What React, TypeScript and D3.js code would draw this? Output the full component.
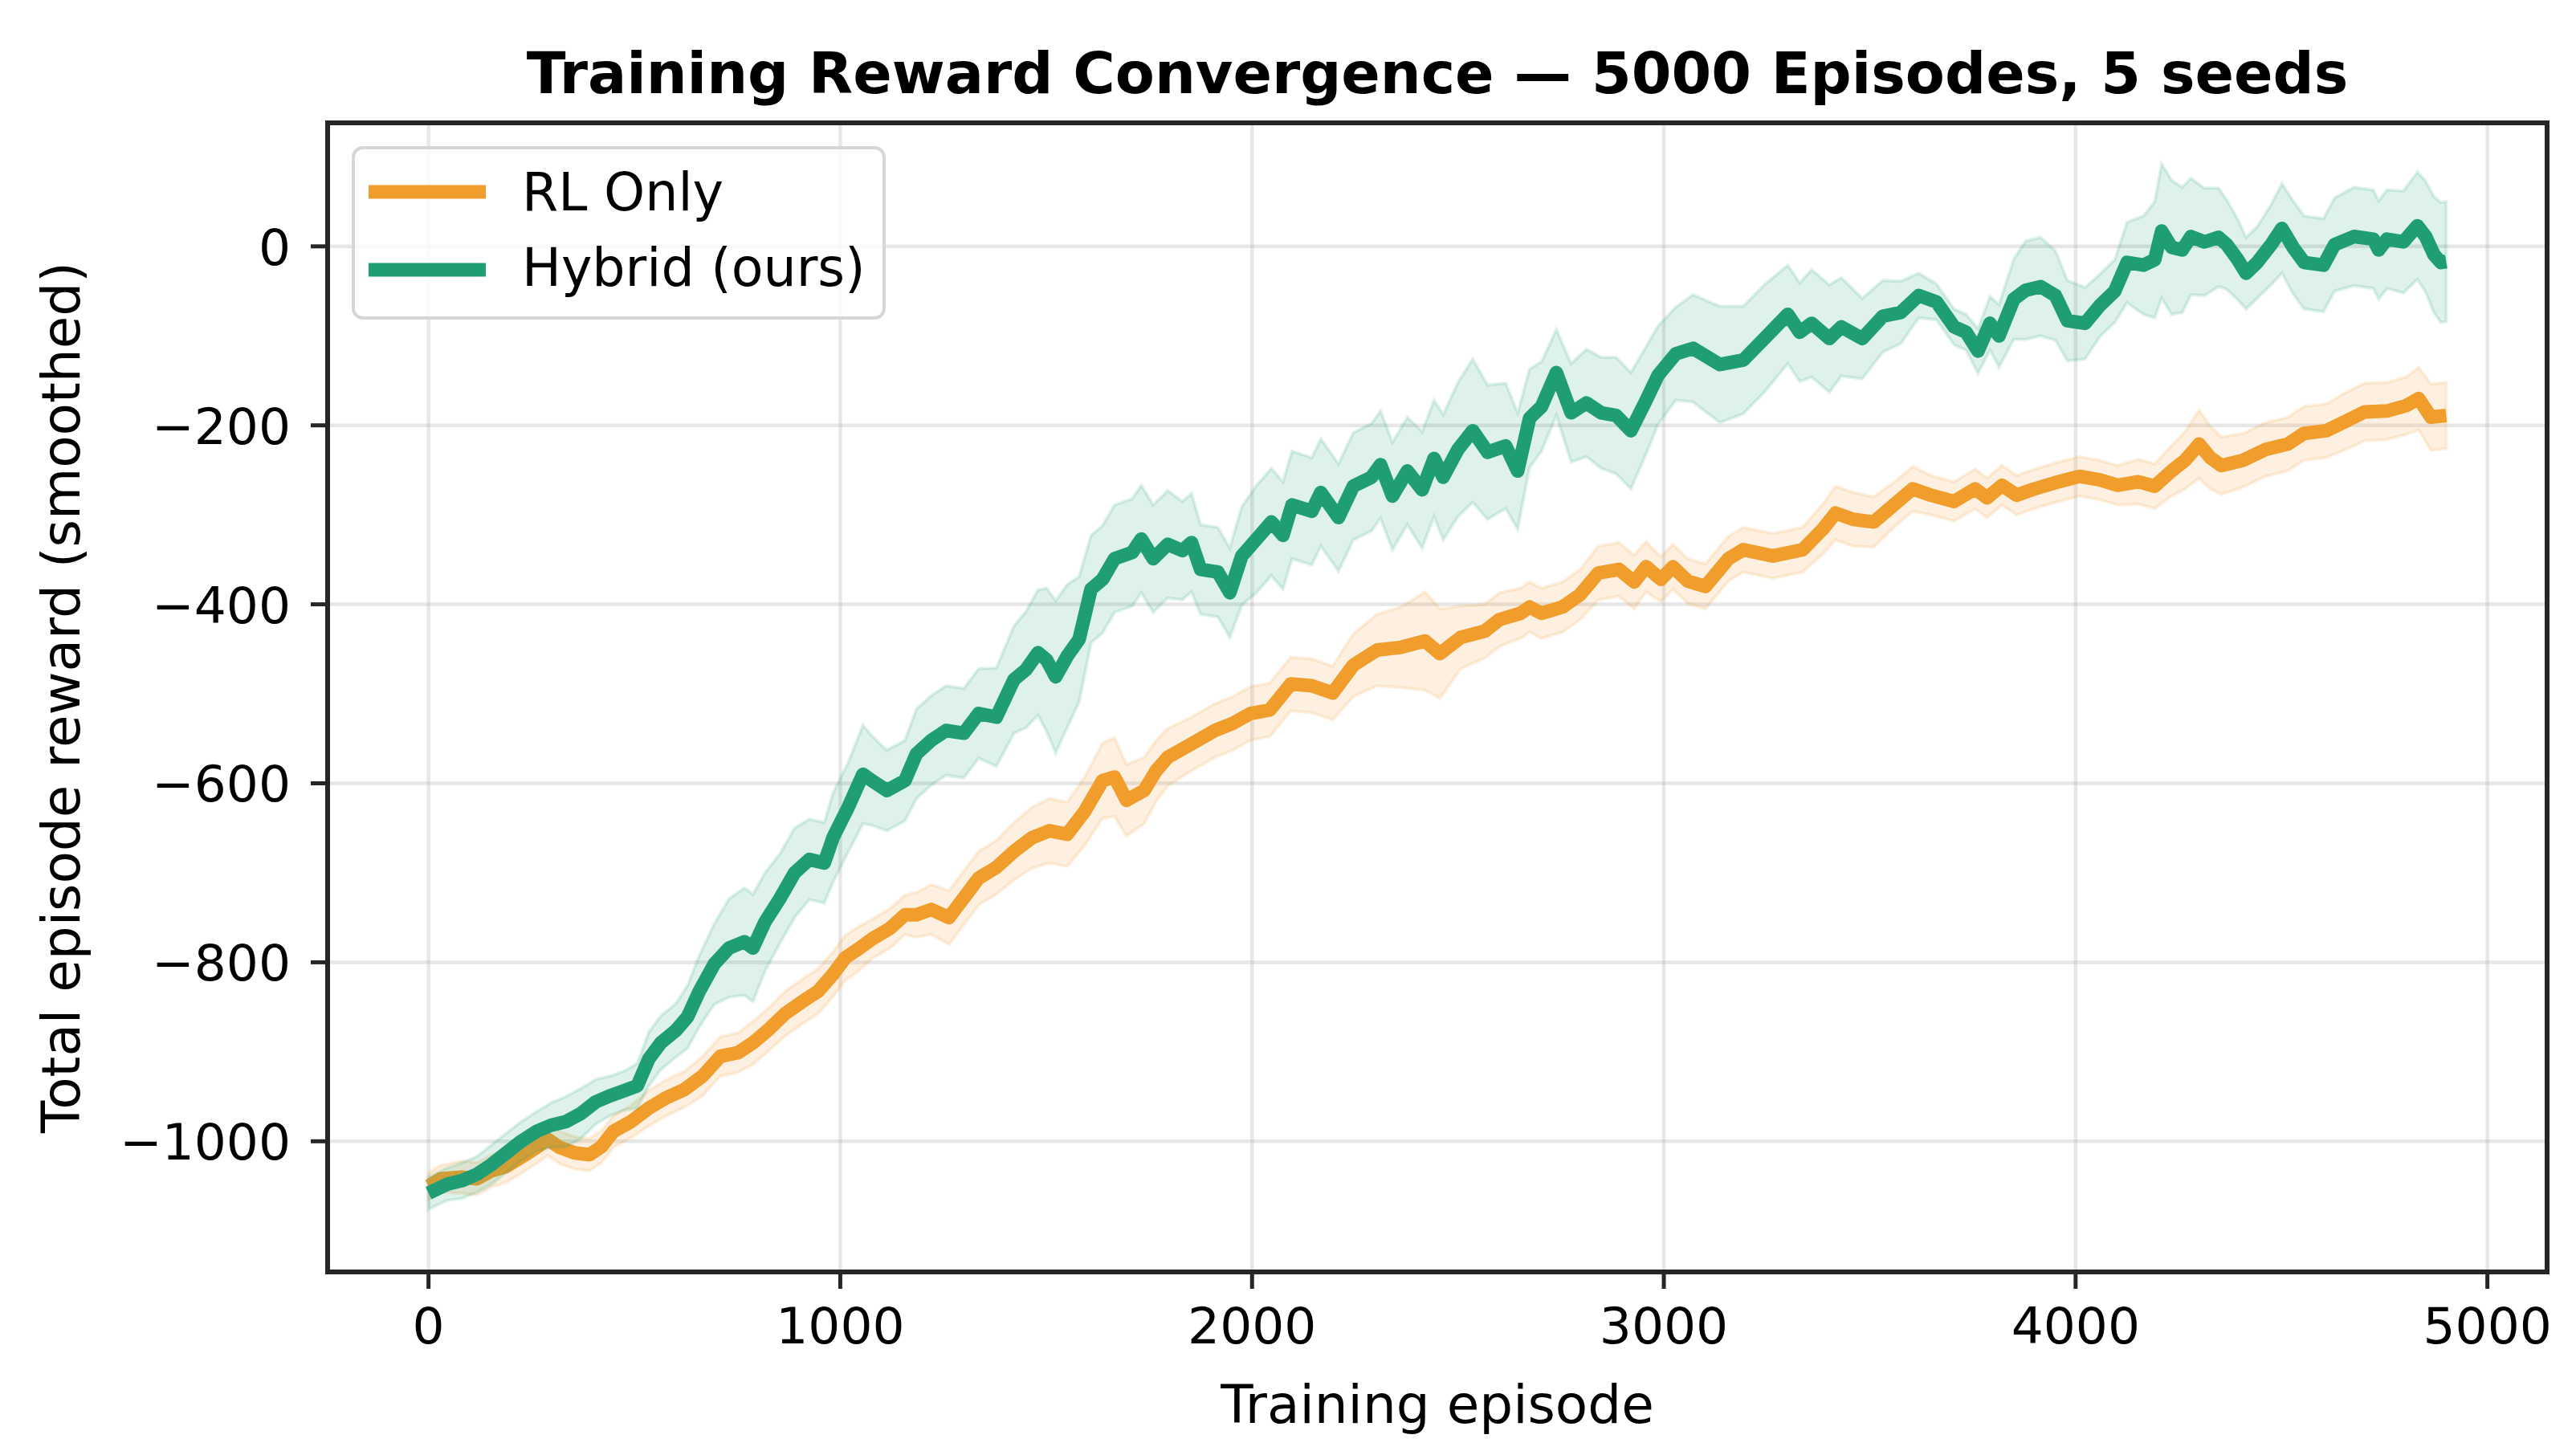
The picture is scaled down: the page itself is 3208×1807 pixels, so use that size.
import React from "react";
import * as d3 from "d3";

const title = "Training Reward Convergence — 5000 Episodes, 5 seeds";
const xLabel = "Training episode";
const yLabel = "Total episode reward (smoothed)";
const xTicks = [0, 1000, 2000, 3000, 4000, 5000];
const yTicks = [0, -200, -400, -600, -800, -1000];
const seriesNames = ["RL Only", "Hybrid (ours)"];
const seriesColors = ["#f09d2c", "#1f9e76"];

const rlEp = [0, 30, 81, 117, 153, 189, 225, 262, 290, 319, 355, 391, 420, 449, 492, 535, 579, 622, 666, 709, 752, 788, 824, 867, 911, 947, 983, 1012, 1041, 1077, 1121, 1157, 1185, 1221, 1264, 1300, 1336, 1379, 1422, 1465, 1508, 1551, 1594, 1637, 1666, 1695, 1738, 1767, 1795, 1853, 1910, 1953, 1996, 2043, 2094, 2145, 2196, 2246, 2304, 2362, 2420, 2456, 2507, 2565, 2601, 2652, 2674, 2703, 2754, 2797, 2841, 2891, 2928, 2957, 2993, 3022, 3058, 3101, 3157, 3193, 3265, 3337, 3388, 3417, 3460, 3510, 3561, 3604, 3648, 3705, 3756, 3785, 3821, 3857, 3900, 3951, 4009, 4059, 4102, 4152, 4192, 4233, 4266, 4300, 4327, 4354, 4407, 4461, 4515, 4555, 4609, 4662, 4702, 4756, 4803, 4833, 4863, 4880, 4900];
const rlMean = [-1050, -1042, -1040, -1042, -1033, -1028, -1018, -1007, -998, -1007, -1013, -1015, -1006, -989, -978, -963, -951, -942, -927, -905, -901, -890, -876, -857, -843, -832, -813, -795, -786, -774, -762, -747, -747, -741, -750, -728, -706, -694, -676, -661, -653, -657, -631, -597, -593, -619, -608, -586, -571, -556, -541, -533, -522, -518, -489, -491, -499, -468, -451, -448, -441, -455, -437, -430, -417, -410, -403, -410, -403, -389, -365, -361, -375, -358, -372, -358, -374, -380, -349, -339, -346, -339, -315, -298, -305, -308, -288, -271, -278, -285, -271, -281, -267, -278, -271, -264, -257, -261, -267, -263, -268, -251, -239, -221, -236, -245, -239, -227, -221, -209, -206, -194, -185, -184, -178, -170, -191, -190, -189];
const rlSpread = [15, 15, 18, 18, 18, 18, 18, 18, 18, 18, 18, 18, 18, 18, 18, 20, 20, 20, 22, 22, 22, 24, 24, 25, 25, 25, 25, 25, 25, 22, 22, 22, 25, 28, 30, 30, 30, 30, 32, 34, 36, 36, 38, 42, 44, 40, 37, 34, 32, 30, 30, 30, 30, 30, 30, 30, 30, 35, 40, 45, 55, 50, 35, 30, 30, 28, 28, 28, 28, 28, 30, 30, 30, 28, 25, 25, 25, 25, 25, 25, 25, 25, 28, 30, 30, 28, 25, 25, 22, 22, 22, 22, 22, 22, 22, 22, 22, 22, 22, 25, 25, 28, 32, 38, 35, 32, 30, 30, 30, 30, 30, 32, 32, 32, 32, 35, 37, 37, 37];

const hybEp = [0, 45, 81, 117, 153, 189, 225, 262, 298, 334, 370, 406, 442, 478, 507, 535, 564, 601, 629, 658, 694, 730, 767, 788, 817, 853, 889, 925, 961, 983, 1019, 1055, 1077, 1113, 1157, 1185, 1221, 1257, 1300, 1336, 1379, 1422, 1451, 1480, 1501, 1523, 1551, 1580, 1609, 1637, 1666, 1709, 1731, 1760, 1795, 1831, 1853, 1875, 1917, 1946, 1975, 2011, 2047, 2075, 2097, 2145, 2167, 2210, 2246, 2290, 2312, 2341, 2377, 2413, 2442, 2464, 2500, 2536, 2572, 2616, 2645, 2674, 2703, 2739, 2775, 2812, 2848, 2884, 2920, 2957, 2986, 3029, 3071, 3136, 3193, 3244, 3301, 3330, 3359, 3402, 3431, 3482, 3532, 3575, 3619, 3662, 3705, 3734, 3763, 3792, 3814, 3850, 3879, 3915, 3951, 3980, 4023, 4059, 4095, 4125, 4165, 4192, 4209, 4233, 4259, 4280, 4313, 4347, 4367, 4394, 4414, 4441, 4475, 4501, 4528, 4555, 4602, 4629, 4676, 4723, 4736, 4756, 4796, 4830, 4850, 4870, 4887, 4900];
const hybMean = [-1058, -1048, -1044, -1037, -1026, -1013, -1000, -989, -982, -978, -969, -956, -949, -943, -938, -908, -890, -876, -861, -832, -802, -784, -777, -784, -755, -729, -700, -685, -689, -660, -627, -590, -597, -608, -597, -567, -552, -541, -544, -522, -526, -484, -473, -454, -462, -481, -458, -439, -383, -372, -349, -342, -327, -349, -333, -340, -331, -361, -364, -387, -346, -327, -308, -323, -289, -296, -275, -303, -268, -258, -244, -279, -251, -272, -237, -258, -227, -206, -230, -223, -251, -192, -179, -141, -186, -175, -186, -189, -206, -172, -144, -120, -114, -132, -127, -103, -76, -96, -86, -103, -90, -103, -78, -74, -55, -62, -90, -96, -117, -86, -100, -59, -49, -45, -55, -83, -86, -66, -50, -18, -21, -15, 17, -1, -4, 11, 5, 10, 2, -15, -30, -18, 2, 20, -1, -18, -21, 2, 11, 8, -4, 8, 5, 23, 11, -9, -18, -17];
const hybSpread = [18, 18, 20, 20, 22, 22, 22, 22, 25, 28, 28, 25, 22, 22, 25, 30, 30, 30, 35, 40, 45, 55, 60, 60, 55, 50, 50, 45, 45, 50, 50, 55, 50, 45, 45, 50, 50, 50, 50, 50, 55, 60, 65, 70, 80, 85, 80, 70, 60, 60, 60, 60, 60, 60, 60, 55, 55, 50, 50, 50, 55, 60, 60, 60, 60, 60, 60, 60, 60, 60, 60, 60, 60, 65, 65, 70, 75, 80, 75, 70, 65, 55, 50, 48, 55, 60, 62, 65, 65, 60, 55, 52, 60, 65, 60, 60, 55, 55, 60, 60, 55, 45, 40, 35, 25, 20, 20, 20, 25, 30, 35, 45, 55, 55, 50, 45, 40, 35, 35, 45, 55, 65, 75, 75, 70, 65, 60, 55, 50, 45, 40, 40, 45, 50, 52, 52, 52, 52, 55, 55, 55, 55, 57, 60, 62, 65, 67, 67];

const W = 3208;
const H = 1807;
const L = 408, R = 3172, T = 153, B = 1584;
const FONT = "DejaVu Sans";
const SPINE = "#262626";
const LW = 17;

export default function App() {
  const x = d3.scaleLinear().domain([-245, 5145]).range([L, R]);
  const y = d3.scaleLinear().domain([-1146, 138]).range([B, T]);

  const series = [
    { ep: rlEp, mean: rlMean, spread: rlSpread, color: seriesColors[0], name: seriesNames[0] },
    { ep: hybEp, mean: hybMean, spread: hybSpread, color: seriesColors[1], name: seriesNames[1] },
  ];

  const area = (s: any) =>
    d3
      .area<number>()
      .x((_, i) => x(s.ep[i]))
      .y0((_, i) => y(s.mean[i] - s.spread[i]))
      .y1((_, i) => y(s.mean[i] + s.spread[i]))(s.mean) || "";
  const line = (s: any) =>
    d3
      .line<number>()
      .x((_, i) => x(s.ep[i]))
      .y((d) => y(d))(s.mean) || "";

  return (
    <svg
      width={W}
      height={H}
      style={{ position: "absolute", left: 0, top: 0, background: "#fff" }}
      fontFamily={FONT}
    >
      <rect x={0} y={0} width={W} height={H} fill="#fff" />
      <defs>
        <clipPath id="plot">
          <rect x={L} y={T} width={R - L} height={B - T} />
        </clipPath>
      </defs>
      {/* grid */}
      <g stroke="#b0b0b0" strokeOpacity={0.3} strokeWidth={4.5}>
        {xTicks.map((t) => (
          <line key={"gx" + t} x1={x(t)} x2={x(t)} y1={T} y2={B} />
        ))}
        {yTicks.map((t) => (
          <line key={"gy" + t} x1={L} x2={R} y1={y(t)} y2={y(t)} />
        ))}
      </g>
      <g clipPath="url(#plot)">
        {series.map((s) => (
          <g key={s.name}>
            <path
              d={area(s)}
              fill={s.color}
              fillOpacity={0.15}
              stroke={s.color}
              strokeOpacity={0.15}
              strokeWidth={4}
            />
            <path
              d={line(s)}
              fill="none"
              stroke={s.color}
              strokeWidth={LW}
              strokeLinejoin="round"
              strokeLinecap="butt"
            />
          </g>
        ))}
      </g>
      {/* spines */}
      <rect x={L} y={T} width={R - L} height={B - T} fill="none" stroke={SPINE} strokeWidth={6} />
      {/* x ticks */}
      {xTicks.map((t) => (
        <g key={"xt" + t}>
          <line x1={x(t)} x2={x(t)} y1={B} y2={B + 21} stroke={SPINE} strokeWidth={5} />
          <text x={x(t)} y={1673} textAnchor="middle" fontSize={63} fill="#000">
            {t}
          </text>
        </g>
      ))}
      {/* y ticks */}
      {yTicks.map((t) => (
        <g key={"yt" + t}>
          <line x1={L - 21} x2={L} y1={y(t)} y2={y(t)} stroke={SPINE} strokeWidth={5} />
          <text x={362} y={y(t) + 23} textAnchor="end" fontSize={63} fill="#000">
            {t < 0 ? "\u2212" + Math.abs(t) : t}
          </text>
        </g>
      ))}
      {/* axis labels */}
      <text x={(L + R) / 2} y={1772} textAnchor="middle" fontSize={66} fill="#000">
        {xLabel}
      </text>
      <text
        transform={`translate(99, ${(T + B) / 2}) rotate(-90)`}
        textAnchor="middle"
        fontSize={66}
        fill="#000"
      >
        {yLabel}
      </text>
      {/* title */}
      <text x={(L + R) / 2} y={116} textAnchor="middle" fontSize={71.5} fontWeight="bold" fill="#000">
        {title}
      </text>
      {/* legend */}
      <g>
        <rect x={440} y={184} width={661} height={212} rx={12} fill="#fff" fillOpacity={0.8} stroke="#d6d6d6" strokeWidth={4} />
        {series.map((s, i) => (
          <g key={"lg" + s.name}>
            <line x1={459} x2={605} y1={239 + i * 97} y2={239 + i * 97} stroke={s.color} strokeWidth={LW} />
            <text x={650} y={262 + i * 94} fontSize={65} fill="#000">
              {s.name}
            </text>
          </g>
        ))}
      </g>
    </svg>
  );
}
